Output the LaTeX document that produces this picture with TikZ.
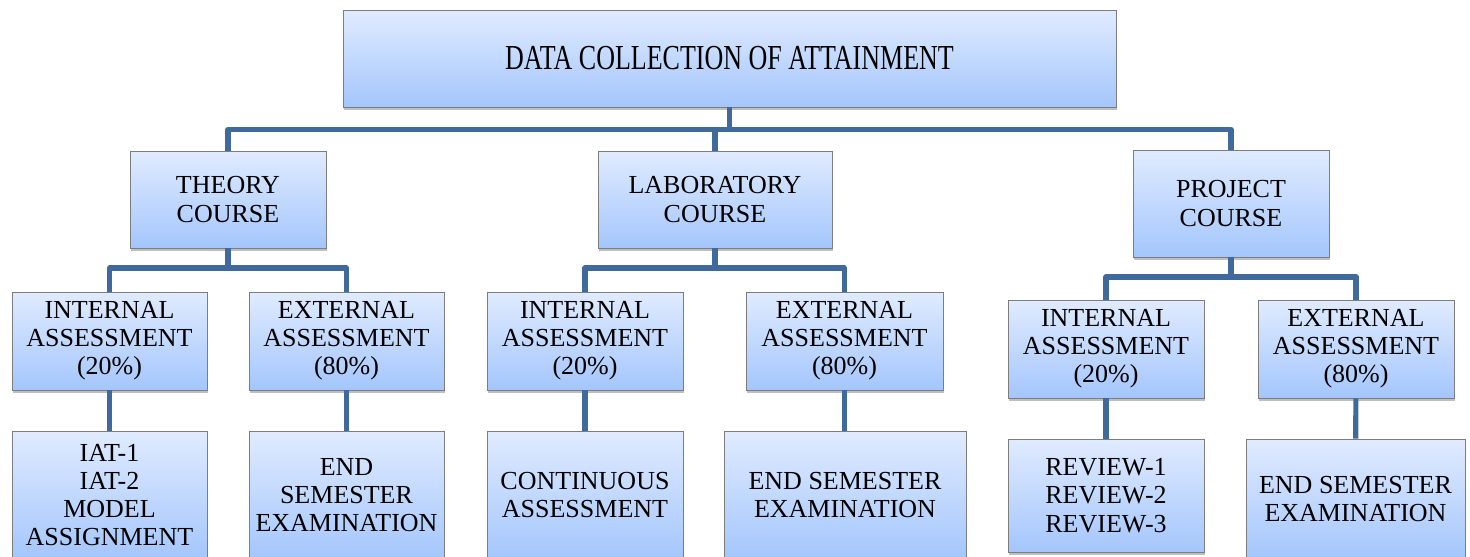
\documentclass[tikz,border=0pt]{standalone}
\usepackage{fontspec}
\setmainfont{Liberation Serif}
\usepackage{tikz}
\usetikzlibrary{shadows, calc}

\definecolor{boxtop}{RGB}{224,235,255}
\definecolor{boxbottom}{RGB}{164,198,252}
\definecolor{boxline}{RGB}{125,125,125}
\definecolor{linkblue}{RGB}{64,106,156}

\begin{document}
\begin{tikzpicture}[x=0.02cm, y=-0.02cm,
        box/.style={draw=boxline, line width=0.5pt, top color=boxtop, bottom color=boxbottom,
            drop shadow={shadow xshift=0.8pt, shadow yshift=-1.5pt, opacity=0.5},
            align=center, inner sep=0pt, font=\fontsize{14.8}{16}\selectfont},
        link/.style={draw=linkblue, line width=2.9pt, line join=round}]
        \useasboundingbox (0,0) rectangle (1470,556);
        % top level
        \node[box, minimum width=15.46cm, minimum height=1.94cm] (root) at (729.5,58.5)
            {\scalebox{1}[1.35]{DATA COLLECTION OF ATTAINMENT}};
        % course types
        \node[box, minimum width=3.92cm, minimum height=1.94cm] (theory) at (228,199.5) {THEORY\\COURSE};
        \node[box, minimum width=4.68cm, minimum height=1.94cm] (lab) at (715,199.5) {LABORATORY\\COURSE};
        \node[box, minimum width=3.92cm, minimum height=2.14cm] (project) at (1231,203.5) {PROJECT\\COURSE};
        % assessments
        \node[box, minimum width=3.9cm, minimum height=1.96cm] (thInt) at (109.5,341) {INTERNAL\\ASSESSMENT\\(20\%)};
        \node[box, minimum width=3.9cm, minimum height=1.96cm] (thExt) at (346.5,341) {EXTERNAL\\ASSESSMENT\\(80\%)};
        \node[box, minimum width=3.92cm, minimum height=1.96cm] (labInt) at (585,341) {INTERNAL\\ASSESSMENT\\(20\%)};
        \node[box, minimum width=3.94cm, minimum height=1.96cm] (labExt) at (844.5,341) {EXTERNAL\\ASSESSMENT\\(80\%)};
        \node[box, minimum width=3.92cm, minimum height=1.96cm] (prInt) at (1106,349) {INTERNAL\\ASSESSMENT\\(20\%)};
        \node[box, minimum width=3.92cm, minimum height=1.96cm] (prExt) at (1356,349) {EXTERNAL\\ASSESSMENT\\(80\%)};
        % components
        \node[box, minimum width=3.9cm, minimum height=2.56cm] (thItems) at (109.5,495) {IAT-1\\IAT-2\\MODEL\\ASSIGNMENT};
        \node[box, minimum width=3.9cm, minimum height=2.56cm] (thEnd) at (346.5,495) {END\\SEMESTER\\EXAMINATION};
        \node[box, minimum width=3.92cm, minimum height=2.56cm] (labItems) at (585,495) {CONTINUOUS\\ASSESSMENT};
        \node[box, minimum width=4.84cm, minimum height=2.56cm] (labEnd) at (845,495) {END SEMESTER\\EXAMINATION};
        \node[box, minimum width=3.92cm, minimum height=2.26cm] (prItems) at (1106,495.5) {REVIEW-1\\REVIEW-2\\REVIEW-3};
        \node[box, minimum width=4.38cm, minimum height=2.4cm] (prEnd) at (1355.5,499) {END SEMESTER\\EXAMINATION};
        % connectors
        \coordinate (busA) at (0,129.5);
        \coordinate (busB) at (0,268);
        \coordinate (busC) at (0,277);
        \draw[link] (root.south) -- (root.south |- busA);
        \draw[link] (theory.north) -- (theory.north |- busA) -- (project.north |- busA) -- (project.north);
        \draw[link] (lab.north) -- (lab.north |- busA);
        \draw[link] (theory.south) -- (theory.south |- busB);
        \draw[link] (thInt.north) -- (thInt.north |- busB) -- (thExt.north |- busB) -- (thExt.north);
        \draw[link] (lab.south) -- (lab.south |- busB);
        \draw[link] (labInt.north) -- (labInt.north |- busB) -- (labExt.north |- busB) -- (labExt.north);
        \draw[link] (project.south) -- (project.south |- busC);
        \draw[link] (prInt.north) -- (prInt.north |- busC) -- (prExt.north |- busC) -- (prExt.north);
        \draw[link] (thInt) -- (thItems);
        \draw[link] (thExt) -- (thEnd);
        \draw[link] (labInt) -- (labItems);
        \draw[link] (labExt.south) -- (labExt.south |- labEnd.north);
        \draw[link] (prInt) -- (prItems);
        \draw[link] (prExt) -- (prEnd);
    \end{tikzpicture}
\end{document}
